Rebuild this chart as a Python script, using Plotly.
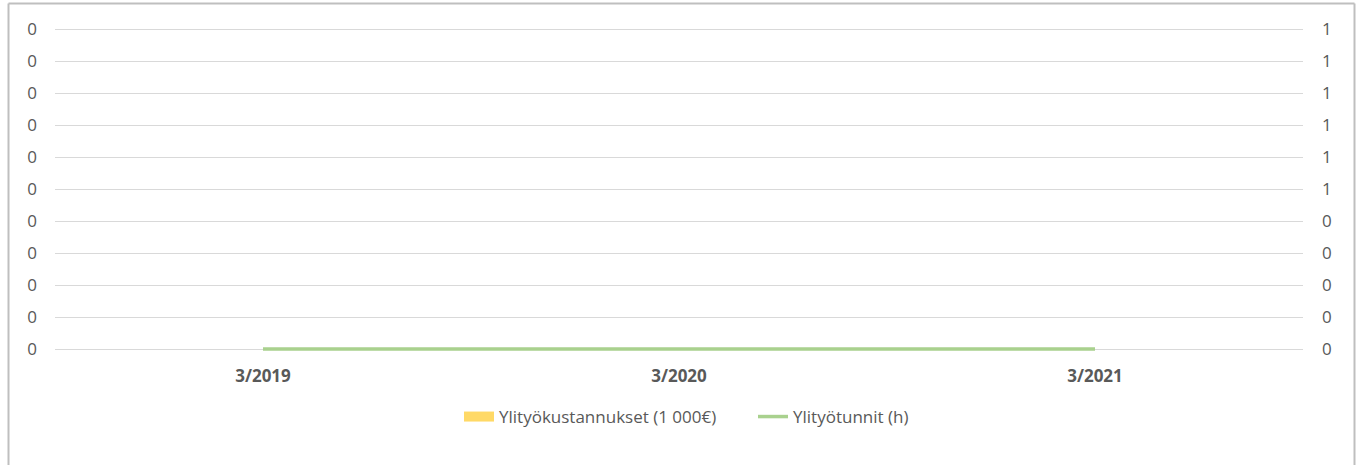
import plotly.graph_objects as go

categories = ["3/2019", "3/2020", "3/2021"]
kustannukset = [0, 0, 0]      # Ylityökustannukset (1 000€)
tunnit = [0, 0, 0]            # Ylityötunnit (h)

left_tickvals = [0, 0.01, 0.02, 0.03, 0.04, 0.05, 0.06, 0.07, 0.08, 0.09, 0.1]
left_ticktext = ["0"] * 11
right_tickvals = [0, 0.1, 0.2, 0.3, 0.4, 0.5, 0.6, 0.7, 0.8, 0.9, 1.0]
right_ticktext = ["0", "0", "0", "0", "0", "1", "1", "1", "1", "1", "1"]

font_family = "Open Sans, Noto Sans, sans-serif"
text_color = "#595959"
FS = 17

fig = go.Figure()
fig.add_trace(go.Bar(
    x=categories, y=kustannukset, name="Ylityökustannukset (1 000€)",
    marker=dict(color="#FFD966", line=dict(width=0)), yaxis="y", showlegend=False,
))
# legend swatch for the bar series (wide yellow block like the reference)
fig.add_trace(go.Scatter(
    x=[None], y=[None], mode="lines", name="Ylityökustannukset (1 000€)",
    line=dict(color="#FFD966", width=12), yaxis="y", showlegend=True,
))
fig.add_trace(go.Scatter(
    x=categories, y=tunnit, name="Ylityötunnit (h)", mode="lines",
    line=dict(color="#A9D18E", width=3.5), yaxis="y2",
))

W, H = 1357, 465
PADPX = 3
L, R, T, B = 55, 54, 29 - PADPX, 116 - PADPX
pw, ph = W - L - R, H - T - B

def px_x(px):
    return (px - L) / pw

def px_y(py):
    return (H - B - py) / ph

lpad = (left_tickvals[-1] - left_tickvals[0]) / 320 * PADPX
rpad = (right_tickvals[-1] - right_tickvals[0]) / 320 * PADPX

fig.update_layout(
    width=W, height=H,
    margin=dict(l=L, r=R, t=T, b=B),
    paper_bgcolor="white", plot_bgcolor="white",
    font=dict(family=font_family, size=FS, color=text_color),
    xaxis=dict(
        type="category", range=[-0.5, 2.5], showgrid=False, zeroline=False,
        showline=False, ticks="", ticklabelstandoff=15 - PADPX,
        tickfont=dict(size=FS, color=text_color, family=font_family, weight="bold"),
    ),
    yaxis=dict(
        range=[left_tickvals[0] - lpad, left_tickvals[-1] + lpad],
        tickvals=left_tickvals, ticktext=left_ticktext,
        showgrid=True, gridcolor="#D9D9D9", gridwidth=1, zeroline=False,
        showline=False, ticks="", ticklabelstandoff=17,
        tickfont=dict(size=FS, color=text_color),
    ),
    yaxis2=dict(
        range=[right_tickvals[0] - rpad, right_tickvals[-1] + rpad],
        tickvals=right_tickvals, ticktext=right_ticktext,
        overlaying="y", side="right", showgrid=False, zeroline=False,
        showline=False, ticks="", ticklabelstandoff=18,
        tickfont=dict(size=FS, color=text_color),
    ),
    legend=dict(
        orientation="h", x=px_x(459), xanchor="left", y=px_y(417), yanchor="middle",
        font=dict(size=FS, color=text_color), bgcolor="rgba(0,0,0,0)",
        itemwidth=30, tracegroupgap=0, entrywidth=249,
    ),
    shapes=[
        dict(type="line", xref="paper", yref="paper",
             x0=px_x(8.5), x1=px_x(1354.5), y0=px_y(3.5), y1=px_y(3.5),
             line=dict(color="#BFBFBF", width=2)),
        dict(type="line", xref="paper", yref="paper",
             x0=px_x(8.5), x1=px_x(8.5), y0=px_y(3.5), y1=px_y(470),
             line=dict(color="#BFBFBF", width=2)),
        dict(type="line", xref="paper", yref="paper",
             x0=px_x(1354.5), x1=px_x(1354.5), y0=px_y(3.5), y1=px_y(470),
             line=dict(color="#BFBFBF", width=2)),
    ],
)

fig.write_html(
    "out.html",
    config={"displayModeBar": False},
    post_script="document.body.style.margin='0';document.body.style.overflow='hidden';",
)
